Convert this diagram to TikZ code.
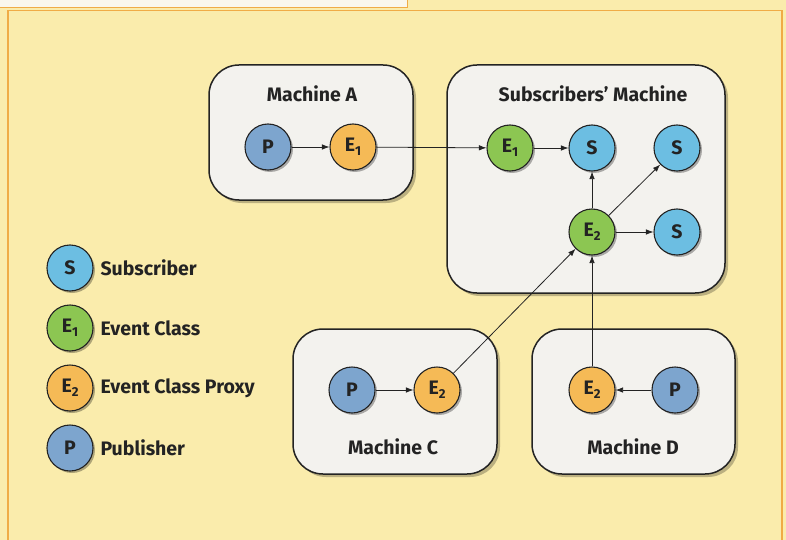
\documentclass[tikz,border=0pt]{standalone}
\usepackage{fontspec}
\setmainfont{Fira Sans}
\usetikzlibrary{shadows,arrows.meta}

\definecolor{paper}{RGB}{250,236,172}
\definecolor{frame}{RGB}{240,172,70}
\definecolor{strip}{RGB}{250,247,236}
\definecolor{boxfill}{RGB}{243,242,238}
\definecolor{subcol}{RGB}{108,190,226}
\definecolor{evcol}{RGB}{140,198,82}
\definecolor{proxcol}{RGB}{245,186,86}
\definecolor{pubcol}{RGB}{125,165,206}
\definecolor{ink}{RGB}{35,35,35}

\newcommand{\idx}[1]{\raisebox{-0.4ex}{\fontsize{13}{13}\selectfont #1}}

\tikzset{
  machine/.style={draw=ink, line width=1.5pt, fill=boxfill, rounded corners=30pt,
    anchor=north west, inner sep=0pt, outer sep=0pt,
    drop shadow={shadow xshift=3pt, shadow yshift=-3pt, fill=black, opacity=0.25}},
  title/.style={font=\bfseries\fontsize{19.5}{19.5}\selectfont, text=ink},
  dot/.style={circle, draw=ink, line width=1.1pt, minimum size=46pt, inner sep=0pt,
    font=\bfseries\fontsize{19.5}{19.5}\selectfont, text=ink,
    drop shadow={shadow xshift=2pt, shadow yshift=-2pt, fill=black, opacity=0.3}},
  sub/.style={dot, fill=subcol},
  ev/.style={dot, fill=evcol},
  prox/.style={dot, fill=proxcol},
  pub/.style={dot, fill=pubcol},
  legendtext/.style={anchor=west, font=\bfseries\fontsize{19.5}{19.5}\selectfont, text=ink},
  flow/.style={draw=ink, line width=0.8pt, -{Latex[length=7.5pt,width=5.5pt]}}
}

\begin{document}
\begin{tikzpicture}[x=1pt, y=-1pt]
\useasboundingbox (0,0) rectangle (786,540);

% page background and frame
\fill[paper] (0,0) rectangle (786,540);
\fill[strip] (0,0) rectangle (407,8);
\draw[frame, line width=1pt] (0,8) -- (407,8) -- (407,0);
\draw[frame, line width=1.2pt] (8,540) -- (8,10.5) -- (782,10.5) -- (782,540);

% machines
\node[machine, minimum width=204pt, minimum height=135pt] (ma) at (209,65) {};
\node[machine, minimum width=278pt, minimum height=228pt] (ms) at (447,65) {};
\node[machine, minimum width=204pt, minimum height=145pt] (mc) at (293,329) {};
\node[machine, minimum width=203pt, minimum height=145pt] (md) at (532,329) {};

\node[title] (ta) at (312,94) {Machine A};
\node[title] (ts) at (593,94) {Subscribers’ Machine};
\node[title] (tc) at (393,447) {Machine C};
\node[title] (td) at (633,447) {Machine D};

% machine A
\node[pub]  (pa)  at (268,147) {P};
\node[prox] (e1a) at (353,147) {E\idx{1}};

% subscribers' machine
\node[ev]  (e1s) at (510,148) {E\idx{1}};
\node[sub] (s1)  at (592,148) {S};
\node[sub] (s2)  at (677,148) {S};
\node[ev]  (e2s) at (592,232) {E\idx{2}};
\node[sub] (s3)  at (677,232) {S};

% machine C
\node[pub]  (pc)  at (352,390) {P};
\node[prox] (e2c) at (437,390) {E\idx{2}};

% machine D
\node[prox] (e2d) at (592,390) {E\idx{2}};
\node[pub]  (pd)  at (675,390) {P};

% event flow
\draw[flow] (pa) -- (e1a);
\draw[flow] (e1a) -- (e1s);
\draw[flow] (e1s) -- (s1);
\draw[flow] (e2s) -- (s1);
\draw[flow] (e2s) -- (s2);
\draw[flow] (e2s) -- (s3);
\draw[flow] (pc) -- (e2c);
\draw[flow] (e2c) -- (e2s);
\draw[flow] (pd) -- (e2d);
\draw[flow] (e2d) -- (e2s);

% legend
\node[sub]  (ls) at (70,268) {S};
\node[ev]   (le1) at (70,328) {E\idx{1}};
\node[prox] (le2) at (70,388) {E\idx{2}};
\node[pub]  (lp) at (70,448) {P};
\node[legendtext] (lts)  at (97,268) {Subscriber};
\node[legendtext] (lte1) at (97,328) {Event Class};
\node[legendtext] (lte2) at (97,388) {Event Class Proxy};
\node[legendtext] (ltp)  at (97,448) {Publisher};
\end{tikzpicture}
\end{document}
